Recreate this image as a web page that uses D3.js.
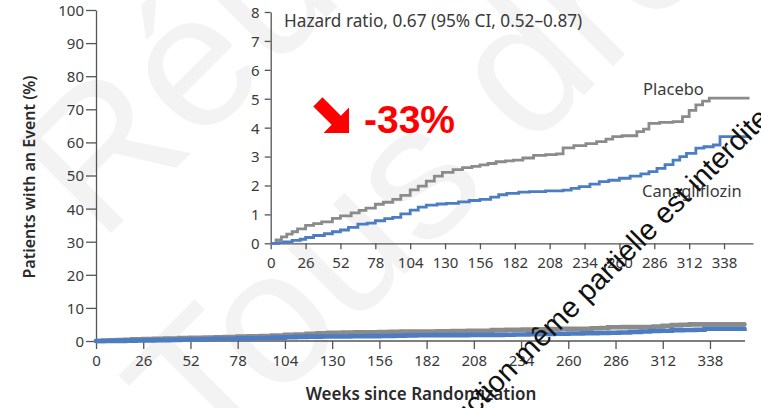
<!DOCTYPE html>
<html>
<head>
<meta charset="utf-8">
<script src="https://cdn.jsdelivr.net/npm/d3@7/dist/d3.min.js"></script>
<style>
  html, body { margin: 0; padding: 0; background: #fff; }
  svg { display: block; }
  .tick text { font-family: "Noto Sans", sans-serif; font-size: 15px; fill: #3a3a3a; }
  .tick line, .domain { stroke: #555; stroke-width: 1.3; }
</style>
</head>
<body>
<svg id="chart" width="761" height="408"></svg>
<script>
// Cumulative incidence (%), Kaplan-Meier style step curves
const placeboWeeks = [0, 4, 8, 12, 16, 20, 26, 32, 38, 46, 52, 60, 66, 71, 78, 84, 91, 97, 104, 110, 116, 122, 128, 136, 143, 150, 156, 162, 168, 175, 181, 188, 196, 205, 213, 218, 226, 235, 243, 250, 255, 262, 270, 273, 278, 282, 290, 300, 307, 312, 317, 322, 327, 357];
const placeboPct   = [0, 0.12, 0.22, 0.32, 0.40, 0.50, 0.62, 0.68, 0.74, 0.86, 0.95, 1.05, 1.14, 1.22, 1.35, 1.42, 1.52, 1.66, 1.85, 1.98, 2.15, 2.32, 2.45, 2.55, 2.62, 2.66, 2.71, 2.76, 2.82, 2.85, 2.88, 2.95, 3.04, 3.07, 3.09, 3.30, 3.38, 3.45, 3.52, 3.60, 3.69, 3.72, 3.72, 3.86, 3.95, 4.15, 4.18, 4.21, 4.38, 4.60, 4.79, 4.92, 5.02, 5.02];

const canaWeeks = [0, 6, 10, 16, 22, 26, 32, 40, 46, 52, 58, 65, 72, 78, 85, 91, 97, 104, 110, 116, 124, 131, 140, 148, 156, 164, 170, 176, 185, 193, 205, 218, 224, 230, 238, 245, 252, 260, 268, 276, 282, 288, 294, 300, 305, 310, 317, 323, 330, 335, 357];
const canaPct   = [0, 0.02, 0.05, 0.10, 0.14, 0.20, 0.27, 0.33, 0.40, 0.46, 0.55, 0.66, 0.70, 0.78, 0.85, 0.90, 1.02, 1.15, 1.25, 1.32, 1.36, 1.38, 1.43, 1.48, 1.52, 1.60, 1.68, 1.73, 1.77, 1.79, 1.81, 1.84, 1.90, 1.96, 2.05, 2.13, 2.18, 2.25, 2.32, 2.40, 2.48, 2.59, 2.72, 2.88, 3.00, 3.11, 3.29, 3.34, 3.40, 3.69, 3.71];

const weekTicks = [0, 26, 52, 78, 104, 130, 156, 182, 208, 234, 260, 286, 312, 338];
const mainPctTicks = [0, 10, 20, 30, 40, 50, 60, 70, 80, 90, 100];
const insetPctTicks = [0, 1, 2, 3, 4, 5, 6, 7, 8];

const seriesNames = ["Placebo", "Canagliflozin"];
const hazardText = "Hazard ratio, 0.67 (95% CI, 0.52\u20130.87)";
const reductionText = "-33%";

const colors = { placebo: "#8b8b8b", cana: "#4c7cc2" };

const svg = d3.select("#chart");

// faint background watermark
const wm = svg.append("g").attr("fill", "#f3f3f3")
  .style("font-family", "'Liberation Sans', Arial, sans-serif").style("font-size", "190px");
wm.append("text").attr("transform", "translate(100,244) rotate(-45)").text("Réutilisation");
wm.append("text").attr("transform", "translate(208,471) rotate(-45)").text("Tous droits réservés");

const placebo = placeboWeeks.map((w, i) => [w, placeboPct[i]]);
const cana = canaWeeks.map((w, i) => [w, canaPct[i]]);

// ---- main panel ----
const x = d3.scaleLinear().domain([0, 357]).range([96, 744.5]);
const y = d3.scaleLinear().domain([0, 100]).range([341, 10]);

svg.append("g").attr("transform", "translate(0,341)")
  .call(d3.axisBottom(x).tickValues(weekTicks).tickSize(8).tickSizeOuter(0).tickPadding(6))
  .call(g => g.select(".domain").attr("d", `M${x(0)},0H745`));

svg.append("g").attr("transform", "translate(96,0)")
  .call(d3.axisLeft(y).tickValues(mainPctTicks).tickSize(10).tickSizeOuter(0).tickPadding(2))
  .call(g => g.selectAll(".tick text").attr("dy", "0.36em"));

const mainLine = d3.line().x(d => x(d[0])).y(d => y(d[1])).curve(d3.curveStepAfter);
svg.append("path").datum(placebo).attr("d", mainLine)
  .attr("fill", "none").attr("stroke", colors.placebo).attr("stroke-width", 4.6).attr("stroke-linecap", "round");
svg.append("path").datum(cana).attr("d", mainLine)
  .attr("fill", "none").attr("stroke", colors.cana).attr("stroke-width", 4.6).attr("stroke-linecap", "round");

svg.append("text")
  .attr("transform", "translate(35,177) rotate(-90)")
  .attr("text-anchor", "middle")
  .style("font-family", "'Noto Sans', sans-serif").style("font-size", "16px").style("font-weight", 600)
  .attr("fill", "#2a2a2a")
  .text("Patients with an Event (%)");

svg.append("text")
  .attr("x", 421).attr("y", 400)
  .attr("text-anchor", "middle")
  .style("font-family", "'Noto Sans', sans-serif").style("font-size", "17px").style("font-weight", 600)
  .attr("fill", "#2a2a2a")
  .text("Weeks since Randomization");

// ---- inset panel ----
const xi = d3.scaleLinear().domain([0, 359.6]).range([270.7, 753]);
const yi = d3.scaleLinear().domain([0, 8]).range([243.3, 12]);

svg.append("g").attr("transform", "translate(0,243.3)")
  .call(d3.axisBottom(xi).tickValues(weekTicks).tickSize(6).tickSizeOuter(0).tickPadding(8));

svg.append("g").attr("transform", "translate(270.7,0)")
  .call(d3.axisLeft(yi).tickValues(insetPctTicks).tickSize(6).tickSizeOuter(0).tickPadding(5))
  .call(g => g.selectAll(".tick text").attr("dy", "0.36em"));

const insetLine = d3.line().x(d => xi(d[0])).y(d => yi(d[1])).curve(d3.curveStepAfter);
svg.append("path").datum(placebo).attr("d", insetLine)
  .attr("fill", "none").attr("stroke", colors.placebo).attr("stroke-width", 2.8);
svg.append("path").datum(cana).attr("d", insetLine)
  .attr("fill", "none").attr("stroke", colors.cana).attr("stroke-width", 2.8);

const lab = svg.append("g")
  .style("font-family", "'Noto Sans', sans-serif").attr("fill", "#3a3a3a");
lab.append("text").attr("x", 284).attr("y", 27).style("font-size", "17.2px").text(hazardText);
lab.append("text").attr("x", 643).attr("y", 95).style("font-size", "16.5px").text(seriesNames[0]);
lab.append("text").attr("x", 642).attr("y", 197).style("font-size", "16.5px").text(seriesNames[1]);

// ---- relative risk reduction callout ----
const tip = [349, 133];
const arrowShape = [[0, 0], [-18, 18], [-18, 6.5], [-44, 6.5], [-44, -6.5], [-18, -6.5], [-18, -18]];
const c = Math.SQRT1_2;
svg.append("path")
  .attr("d", "M" + arrowShape.map(([u, v]) => [tip[0] + (u - v) * c, tip[1] + (u + v) * c].join(",")).join("L") + "Z")
  .attr("fill", "#ff0000");
svg.append("text").attr("x", 364).attr("y", 133)
  .style("font-family", "'Liberation Sans', Arial, sans-serif").style("font-size", "39px").style("font-weight", 700)
  .attr("fill", "#ff0000").text(reductionText);

// ---- overlay notice ----
svg.append("text")
  .attr("transform", "translate(771,120) rotate(-45)")
  .attr("text-anchor", "end")
  .style("font-family", "'Liberation Sans', Arial, sans-serif").style("font-size", "29px")
  .attr("fill", "#111")
  .text("Reproduction même partielle est interdite");
</script>
</body>
</html>
